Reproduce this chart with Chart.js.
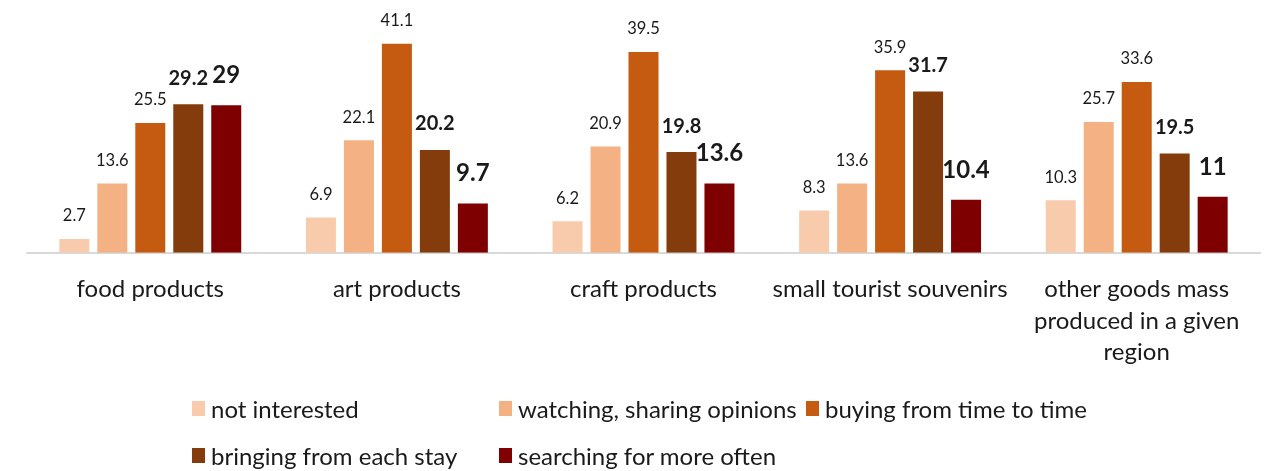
<!DOCTYPE html>
<html>
<head>
<meta charset="utf-8">
<script src="https://cdn.jsdelivr.net/npm/chart.js@4/dist/chart.umd.min.js"></script>
<style>
  html, body { margin: 0; padding: 0; background: #fff; }
  #wrap { position: relative; width: 1271px; height: 471px; }
  #chart { position: absolute; left: 0; top: 0; }
  #legend { position: absolute; left: 192px; top: 394px; width: 1000px; font-family: Lato, "Open Sans", sans-serif; font-size: 24px; color: #1a1a1a; }
  .lg-item { position: absolute; display: flex; align-items: center; white-space: nowrap; height: 28px; }
  .lg-box { width: 13px; height: 15px; margin-right: 6px; }
</style>
</head>
<body>
<div id="wrap">
  <canvas id="chart" width="1271" height="471"></canvas>
  <div id="legend"></div>
</div>
<script>
const categories = [
  'food products',
  'art products',
  'craft products',
  'small tourist souvenirs',
  ['other goods mass', 'produced in a given', 'region']
];
const seriesNames = [
  'not interested',
  'watching, sharing opinions',
  'buying from time to time',
  'bringing from each stay',
  'searching for more often'
];
const notInterested   = [2.7, 6.9, 6.2, 8.3, 10.3];
const watchingSharing = [13.6, 22.1, 20.9, 13.6, 25.7];
const buyingSometimes = [25.5, 41.1, 39.5, 35.9, 33.6];
const bringingEach    = [29.2, 20.2, 19.8, 31.7, 19.5];
const searchingMore   = [29, 9.7, 13.6, 10.4, 11];

const colors = ['#F8CBAD', '#F4B183', '#C55A11', '#843C0C', '#7F0000'];
// label style per series: size, weight, gap above bar top (to text centre)
const labelFonts = [
  { size: 16.5, weight: 'normal', gap: 23 },
  { size: 16.5, weight: 'normal', gap: 23 },
  { size: 16.5, weight: 'normal', gap: 23 },
  { size: 20, weight: 'bold', gap: 26 },
  { size: 24, weight: 'bold', gap: 30 }
];

const seriesData = [notInterested, watchingSharing, buyingSometimes, bringingEach, searchingMore];

const valueLabels = {
  id: 'valueLabels',
  afterDatasetsDraw(chart) {
    const ctx = chart.ctx;
    ctx.save();
    ctx.textAlign = 'center';
    ctx.textBaseline = 'middle';
    chart.data.datasets.forEach((ds, i) => {
      const f = labelFonts[i];
      ctx.font = `${f.weight} ${f.size}px Lato, "Open Sans", sans-serif`;
      ctx.fillStyle = '#1a1a1a';
      chart.getDatasetMeta(i).data.forEach((bar, j) => {
        ctx.fillText(String(ds.data[j]), bar.x, bar.y - f.gap);
      });
    });
    ctx.restore();
  }
};

const chart = new Chart(document.getElementById('chart'), {
  type: 'bar',
  data: {
    labels: categories,
    datasets: seriesData.map((d, i) => ({
      label: seriesNames[i],
      data: d,
      backgroundColor: colors[i],
      categoryPercentage: 0.77,
      barPercentage: 0.79
    }))
  },
  options: {
    responsive: false,
    animation: false,
    layout: { padding: { top: 24, left: 27, right: 11, bottom: 82 } },
    plugins: { legend: { display: false }, tooltip: { enabled: false } },
    scales: {
      y: { display: false, min: 0, max: 45 },
      x: {
        grid: { display: false, drawTicks: false },
        border: { display: true, color: '#D9D9D9', width: 2 },
        ticks: {
          color: '#1a1a1a',
          padding: 21,
          maxRotation: 0,
          autoSkip: false,
          font: { family: 'Lato, "Open Sans", sans-serif', size: 24, lineHeight: 1.31 }
        }
      }
    }
  },
  plugins: [valueLabels]
});

// legend laid out on a fixed grid, three columns
const legendEl = document.getElementById('legend');
chart.data.datasets.forEach((ds, i) => {
  const item = document.createElement('div');
  item.className = 'lg-item';
  item.style.left = (i % 3) * 307 + 'px';
  item.style.top = Math.floor(i / 3) * 47 + 'px';
  const box = document.createElement('span');
  box.className = 'lg-box';
  box.style.background = ds.backgroundColor;
  const txt = document.createElement('span');
  txt.textContent = ds.label;
  item.appendChild(box);
  item.appendChild(txt);
  legendEl.appendChild(item);
});
</script>
</body>
</html>
